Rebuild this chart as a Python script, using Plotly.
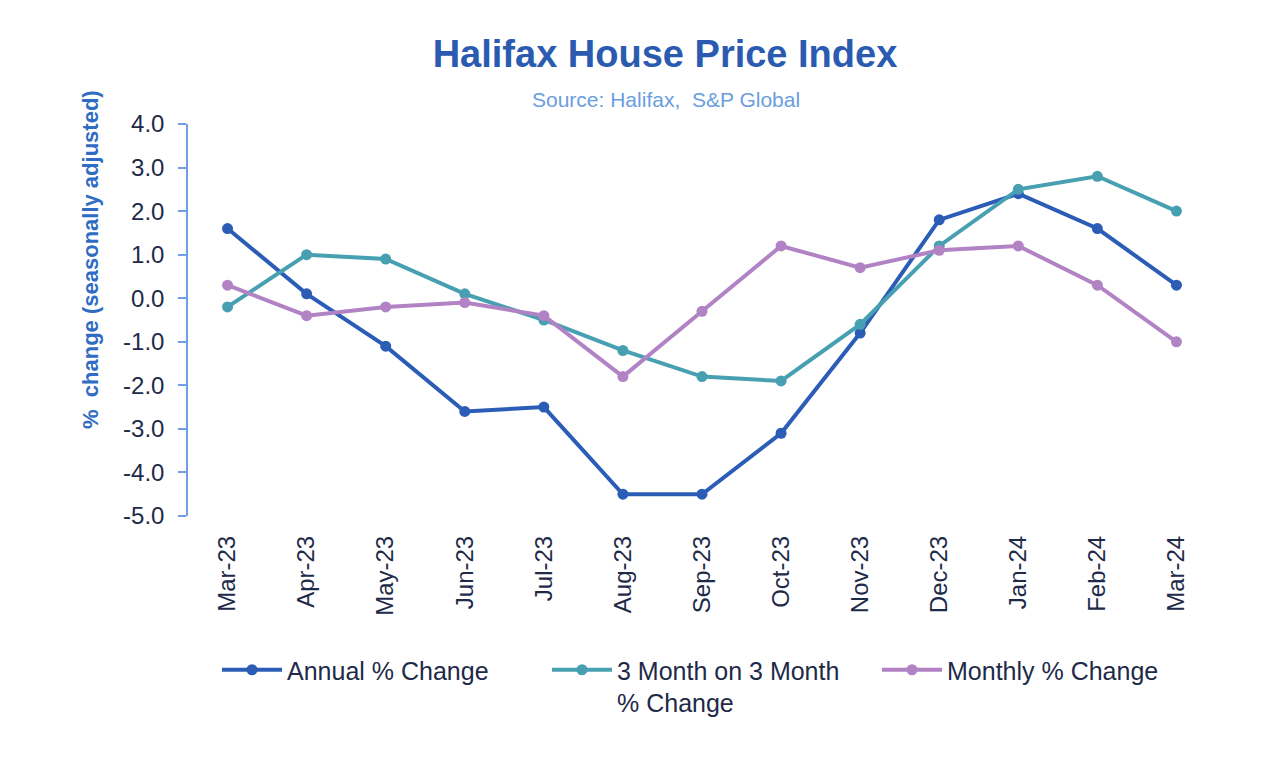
import plotly.graph_objects as go

months = ["Mar-23", "Apr-23", "May-23", "Jun-23", "Jul-23", "Aug-23", "Sep-23",
          "Oct-23", "Nov-23", "Dec-23", "Jan-24", "Feb-24", "Mar-24"]
annual = [1.6, 0.1, -1.1, -2.6, -2.5, -4.5, -4.5, -3.1, -0.8, 1.8, 2.4, 1.6, 0.3]
three_month = [-0.2, 1.0, 0.9, 0.1, -0.5, -1.2, -1.8, -1.9, -0.6, 1.2, 2.5, 2.8, 2.0]
monthly = [0.3, -0.4, -0.2, -0.1, -0.4, -1.8, -0.3, 1.2, 0.7, 1.1, 1.2, 0.3, -1.0]
y_ticks = [4, 3, 2, 1, 0, -1, -2, -3, -4, -5]
y_labels = ["%.1f" % v for v in y_ticks]  # plain hyphen minus like the original

# the page body has an 8px margin, so work in page pixels and shift
OFF = 8
W, H = 1280 - OFF, 782 - OFF
L, R, T, B = 188 - OFF, 1216 - OFF, 124 - OFF, 516 - OFF

font = "Liberation Sans, Arial, sans-serif"
ink = "#1e2a48"
axis_col = "#6fa0e6"

fig = go.Figure()
series = [
    ("Annual % Change", annual, "#2b5db7"),
    ("3 Month on 3 Month<br>% Change", three_month, "#47a0b1"),
    ("Monthly % Change", monthly, "#b283c4"),
]
for name, vals, col in series:
    fig.add_trace(go.Scatter(
        x=months, y=vals, name=name, mode="lines+markers",
        line=dict(color=col, width=4),
        marker=dict(color=col, size=11),
    ))


def px_x(p):
    return (p - OFF - L) / (R - L)


def px_y(p):
    return (B - (p - OFF)) / (B - T)


fig.update_layout(
    width=W, height=H,
    margin=dict(l=L, r=W - R, t=T, b=H - B, autoexpand=False),
    paper_bgcolor="white", plot_bgcolor="white",
    font=dict(family=font, color=ink, size=22),
    title=dict(text="<b>Halifax House Price Index</b>", x=(665 - OFF) / W, xanchor="center",
               y=1 - (54 - OFF) / H, yanchor="middle",
               font=dict(size=38, color="#2a5bb0", family=font)),
    showlegend=True,
    legend=dict(orientation="h", x=px_x(217), xanchor="left", y=px_y(647), yanchor="top",
                font=dict(size=25, color=ink), entrywidth=255, entrywidthmode="pixels",
                itemwidth=60, valign="top", tracegroupgap=0),
    xaxis=dict(type="category", range=[-0.5, len(months) - 0.5], showgrid=False,
               showline=False, ticks="", ticklabelstandoff=14,
               tickangle=-90, tickfont=dict(size=24, color=ink), zeroline=False),
    yaxis=dict(range=[-5, 4], tickvals=y_ticks, ticktext=y_labels, showgrid=False,
               showline=True, linecolor=axis_col, linewidth=1.5,
               ticks="outside", ticklen=8, tickcolor=axis_col, tickwidth=1.5,
               ticklabelstandoff=9,
               tickfont=dict(size=24, color=ink), zeroline=False),
    annotations=[
        dict(text="Source: Halifax,  S&amp;P Global", xref="paper", yref="paper",
             x=px_x(666), y=px_y(99), xanchor="center", yanchor="middle", showarrow=False,
             font=dict(size=21, color="#6a9de0", family=font)),
        dict(text="<b>%  change (seasonally adjusted)</b>", xref="paper", yref="paper",
             x=px_x(90), y=px_y(260), xanchor="center", yanchor="middle", showarrow=False,
             textangle=-90, font=dict(size=22, color="#2f6cc4", family=font)),
    ],
)

fig.write_html("out.html")
